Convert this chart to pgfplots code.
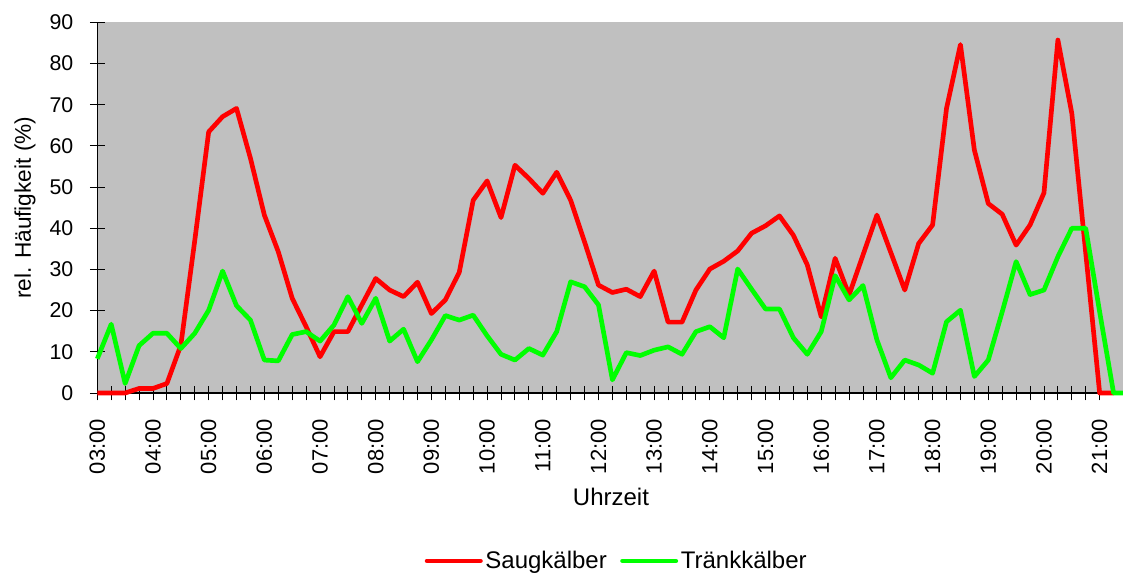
\documentclass[border=0pt]{standalone}
\usepackage{fontspec}
\setmainfont{Liberation Sans}
\usepackage{pgfplots}
\pgfplotsset{compat=1.18}
\definecolor{bg}{RGB}{192,192,192}
\definecolor{myred}{RGB}{255,0,0}
\definecolor{mygreen}{RGB}{0,255,0}
\pgfplotstableread{
t red green
3.00 0 8.3
3.25 0 16.7
3.50 0 2.3
3.75 1.1 11.5
4.00 1.1 14.5
4.25 2.3 14.5
4.50 11.6 10.8
4.75 37 14.5
5.00 63.4 20.1
5.25 67.1 29.6
5.50 69.1 21.2
5.75 57.0 17.7
6.00 43.2 8.0
6.25 34.3 7.8
6.50 23.0 14.2
6.75 16.1 14.9
7.00 8.8 12.6
7.25 14.9 16.5
7.50 14.9 23.4
7.75 21.4 16.9
8.00 27.8 23.0
8.25 25.0 12.6
8.50 23.4 15.5
8.75 26.9 7.6
9.00 19.3 12.9
9.25 22.6 18.8
9.50 29.3 17.7
9.75 46.8 18.9
10.00 51.5 13.9
10.25 42.6 9.4
10.50 55.3 8.0
10.75 52.1 10.8
11.00 48.5 9.2
11.25 53.6 14.9
11.50 46.8 27.0
11.75 36.7 25.8
12.00 26.2 21.4
12.25 24.4 3.2
12.50 25.2 9.8
12.75 23.4 9.1
13.00 29.6 10.4
13.25 17.2 11.2
13.50 17.2 9.4
13.75 25.0 14.9
14.00 30.1 16.1
14.25 32.0 13.4
14.50 34.5 30.1
14.75 38.8 25.2
15.00 40.6 20.4
15.25 43.0 20.4
15.50 38.3 13.4
15.75 31.1 9.4
16.00 18.5 14.9
16.25 32.7 28.5
16.50 23.8 22.6
16.75 33.5 26.1
17.00 43.2 12.9
17.25 34.1 3.7
17.50 25.0 8.0
17.75 36.3 6.8
18.00 40.8 4.8
18.25 69.1 17.3
18.50 84.6 20.1
18.75 59.0 4.0
19.00 46.0 8.0
19.25 43.4 19.7
19.50 35.9 31.9
19.75 40.8 23.9
20.00 48.6 25.0
20.25 85.7 33.1
20.50 67.9 40.0
20.75 34.0 40.0
21.00 0 19.7
21.25 0 0
21.50 nan 0
}\datatable
\begin{document}
\begin{tikzpicture}
\begin{axis}[
  at={(72.975pt,-294.75pt)}, anchor=south west,
  scale only axis, width=769.3pt, height=278pt,
  xmin=3, xmax=21.42, ymin=0, ymax=90,
  axis lines*=left,
  axis line style={black, line width=0.8pt},
  axis background/.style={fill=bg},
  clip=false,
  xtick={3,4,...,21},
  xticklabels={03:00,04:00,05:00,06:00,07:00,08:00,09:00,10:00,11:00,12:00,13:00,14:00,15:00,16:00,17:00,18:00,19:00,20:00,21:00},
  minor x tick num=3,
  ytick={0,10,...,90},
  tick align=center,
  major tick length=11pt, minor tick length=11pt,
  tick style={black, line width=0.7pt},
  /pgf/number format/assume math mode=true,
  xticklabel style={rotate=90, anchor=east, font=\fontsize{16.5}{19}\selectfont},
  yticklabel style={font=\fontsize{16}{19}\selectfont},
  xticklabel shift=10.5pt,
  yticklabel shift=9pt,
  xlabel={Uhrzeit},
  xlabel style={at={(axis description cs:0.5008,-0.2805)}, anchor=center, font=\fontsize{18}{21}\selectfont},
  ylabel={rel. Häufigkeit (\%)},
  ylabel style={at={(axis description cs:-0.0705,0.5)}, anchor=center, rotate=0, font=\fontsize{17}{20}\selectfont},
  legend columns=2,
  legend style={at={(axis description cs:0.5067,-0.453)}, anchor=center, draw=none, fill=none,
    font=\fontsize{18}{21}\selectfont,
    /tikz/every even column/.append style={column sep=8pt}},
  legend image code/.code={\draw[#1, line cap=round] (0pt,0pt) -- (40pt,0pt);},
]
\addplot[myred, line width=3.5pt, line join=round, unbounded coords=jump] table[x=t, y=red] {\datatable};
\addlegendentry{Saugkälber}
\addplot[mygreen, line width=3.5pt, line join=round] table[x=t, y=green] {\datatable};
\addlegendentry{Tränkkälber}
\end{axis}
\pgfresetboundingbox
\path[use as bounding box] (0pt,0pt) rectangle (842.25pt,-429.75pt);
\end{tikzpicture}
\end{document}
